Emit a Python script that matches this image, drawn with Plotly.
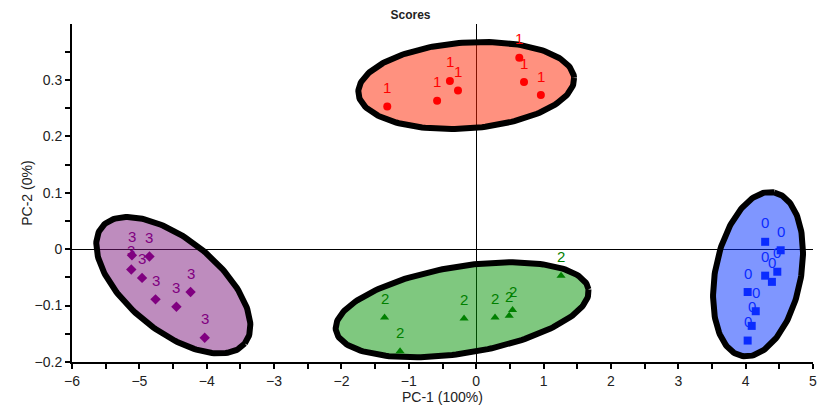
import numpy as np
import plotly.graph_objects as go

# ---- data ----
g0_x = [4.29, 4.52, 4.29, 4.39, 4.47, 4.03, 4.15, 4.09, 4.03]
g0_y = [0.013, -0.002, -0.047, -0.058, -0.040, -0.076, -0.110, -0.136, -0.162]
g1_x = [-1.32, -0.58, -0.39, -0.27, 0.64, 0.71, 0.96]
g1_y = [0.253, 0.263, 0.298, 0.281, 0.339, 0.296, 0.273]
g2_x = [-1.36, -1.13, -0.18, 0.28, 0.49, 0.54, 1.26]
g2_y = [-0.121, -0.181, -0.123, -0.121, -0.118, -0.108, -0.047]
g3_x = [-5.11, -4.85, -5.12, -4.96, -4.76, -4.45, -4.24, -4.03]
g3_y = [-0.011, -0.013, -0.036, -0.051, -0.089, -0.102, -0.076, -0.157]

group_labels = ["0", "1", "2", "3"]
marker_symbols = ["square", "circle", "triangle-up", "diamond"]
marker_colors = ["#0A2BFF", "#FF0000", "#008000", "#800080"]
fill_colors = ["rgba(0,45,255,0.5)", "rgba(255,36,0,0.5)",
               "rgba(0,145,0,0.5)", "rgba(125,25,125,0.5)"]

# ellipse: centre, half-axis vector a, half-axis vector b (data units)
ell_cx = [4.184, -0.148, -0.208, -4.496]
ell_cy = [-0.0444, 0.290, -0.1075, -0.064]
ell_ax = [0.240, 1.601, 1.875, 1.061]
ell_ay = [0.1449, 0.0137, 0.0364, -0.1032]
ell_bx = [0.623, 0.0454, 0.102, -0.427]
ell_by = [-0.0147, -0.0760, -0.076, -0.0629]

xs = [g0_x, g1_x, g2_x, g3_x]
ys = [g0_y, g1_y, g2_y, g3_y]

fig = go.Figure()
t = np.linspace(0, 2 * np.pi, 200)
for i in range(4):
    ex = ell_cx[i] + np.cos(t) * ell_ax[i] + np.sin(t) * ell_bx[i]
    ey = ell_cy[i] + np.cos(t) * ell_ay[i] + np.sin(t) * ell_by[i]
    fig.add_trace(go.Scatter(x=ex, y=ey, mode="lines", fill="toself",
                             fillcolor=fill_colors[i],
                             line=dict(color="black", width=6),
                             hoverinfo="skip", showlegend=False))

for i in range(4):
    fig.add_trace(go.Scatter(x=xs[i], y=ys[i], mode="markers",
                             marker=dict(symbol=marker_symbols[i], size=8,
                                         color=marker_colors[i]),
                             showlegend=False))
    for xv, yv in zip(xs[i], ys[i]):
        fig.add_annotation(x=xv, y=yv, text=group_labels[i], showarrow=False,
                           yshift=19, font=dict(size=15, color=marker_colors[i],
                                                family="Liberation Sans"))

axis_font = dict(family="Liberation Sans", size=14, color="#222")
fig.add_annotation(xref="paper", yref="paper", x=0.5, y=-0.104, yanchor="middle",
                   text="PC-1 (100%)", showarrow=False, font=axis_font)
fig.add_annotation(xref="paper", yref="paper", x=-0.061, y=0.5, xanchor="center",
                   text="PC-2 (0%)", textangle=-90, showarrow=False, font=axis_font)

fig.update_layout(
    width=821, height=406,
    margin=dict(l=72, r=8, t=24, b=44, autoexpand=False),
    paper_bgcolor="white", plot_bgcolor="white",
    title=dict(text="<b>Scores</b>", x=0.5, xanchor="center", y=0.963, yanchor="middle",
               font=dict(family="Liberation Sans", size=12, color="#222")),
    font=axis_font,
)
fig.update_xaxes(range=[-6, 5], dtick=1, showgrid=False, zeroline=True, automargin=False,
                 zerolinecolor="black", zerolinewidth=1,
                 showline=True, linecolor="black", linewidth=2,
                 ticks="outside", ticklen=5, tickwidth=1.5, tickcolor="black",
                 minor=dict(dtick=0.5, ticks="outside", ticklen=5, tickwidth=1.5, tickcolor="black"))
fig.update_yaxes(range=[-0.2, 0.399], dtick=0.1, showgrid=False, zeroline=True, automargin=False,
                 zerolinecolor="black", zerolinewidth=1,
                 showline=True, linecolor="black", linewidth=2,
                 ticks="outside", ticklen=5, tickwidth=1.5, tickcolor="black",
                 minor=dict(dtick=0.05, ticks="outside", ticklen=5, tickwidth=1.5, tickcolor="black"))

fig.write_html("out.html")
